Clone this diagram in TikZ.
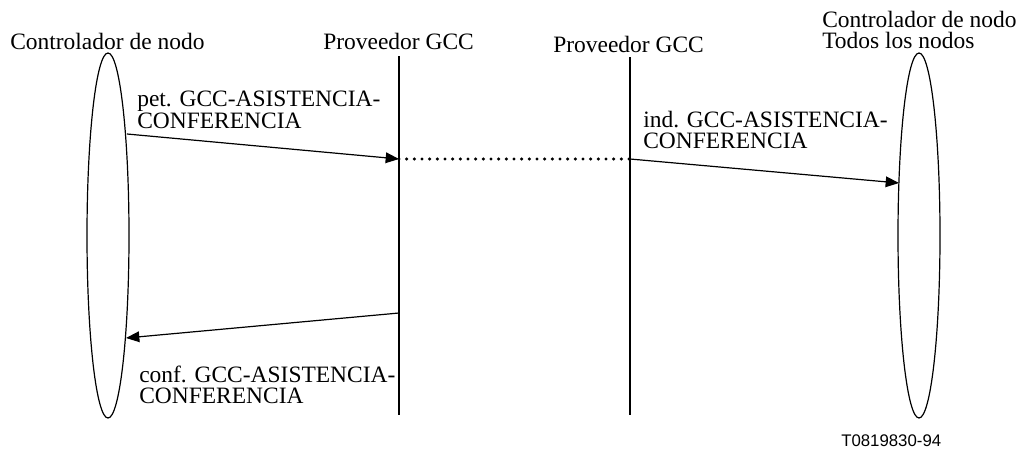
\documentclass[tikz,border=0pt]{standalone}
\usepackage{fontspec}
\setmainfont{Liberation Serif}
\newfontfamily\labelsans{Liberation Sans}
\usetikzlibrary{shapes.geometric,arrows.meta}
\begin{document}
\begin{tikzpicture}[x=0.75pt,y=-0.75pt,
  txt/.style={anchor=base west,inner sep=0pt,font=\fontsize{17.6pt}{15.2pt}\selectfont,align=left},
  actor/.style={draw,ellipse,line width=0.9pt,minimum width=31.5pt,minimum height=273.75pt,inner sep=0pt},
  lifeline/.style={line width=1.5pt},
  msg/.style={line width=0.9pt,-{Triangle[length=10pt,width=8pt]}},
  dotline/.style={line width=2.6pt,line cap=round,dash pattern=on 0pt off 5.75pt}]
\useasboundingbox (0,0) rectangle (1020,450);
% actors
\node[actor] (L) at (108,235.5) {};
\node[actor] (R) at (919,235.5) {};
% lifelines
\coordinate (p1t) at (399,56);
\coordinate (p1b) at (399,415);
\coordinate (p2t) at (630,57);
\coordinate (p2b) at (630,415);
\draw[lifeline] (p1t) -- (p1b);
\draw[lifeline] (p2t) -- (p2b);
% titles
\node[txt] (tL) at (10,49) {Controlador de nodo};
\node[txt] (tP1) at (323,49) {Proveedor GCC};
\node[txt] (tP2) at (553,52) {Proveedor GCC};
\node[txt] (tR1) at (822,27) {Controlador de nodo};
\node[txt] (tR2) at (822,48) {Todos los nodos};
% message points
\coordinate (a1s) at (127,134);
\coordinate (a1e) at (399,159);
\coordinate (a2s) at (630,159);
\coordinate (a2e) at (899,183);
\coordinate (a3s) at (399,313);
\coordinate (a3e) at (126,338);
\draw[msg] (a1s) -- (a1e);
\draw[dotline] (a1e) -- (a2s);
\draw[msg] (a2s) -- (a2e);
\draw[msg] (a3s) -- (a3e);
% labels
\node[txt] (m1) at (137,128) {pet. GCC-ASISTENCIA-\\CONFERENCIA};
\node[txt] (m2) at (643,148) {ind. GCC-ASISTENCIA-\\CONFERENCIA};
\node[txt] (m3) at (139,403) {conf. GCC-ASISTENCIA-\\CONFERENCIA};
\node[anchor=base west,inner sep=0pt,font=\labelsans\fontsize{12.6pt}{14pt}\selectfont] (code) at (841,446) {T0819830-94};
\end{tikzpicture}
\end{document}
